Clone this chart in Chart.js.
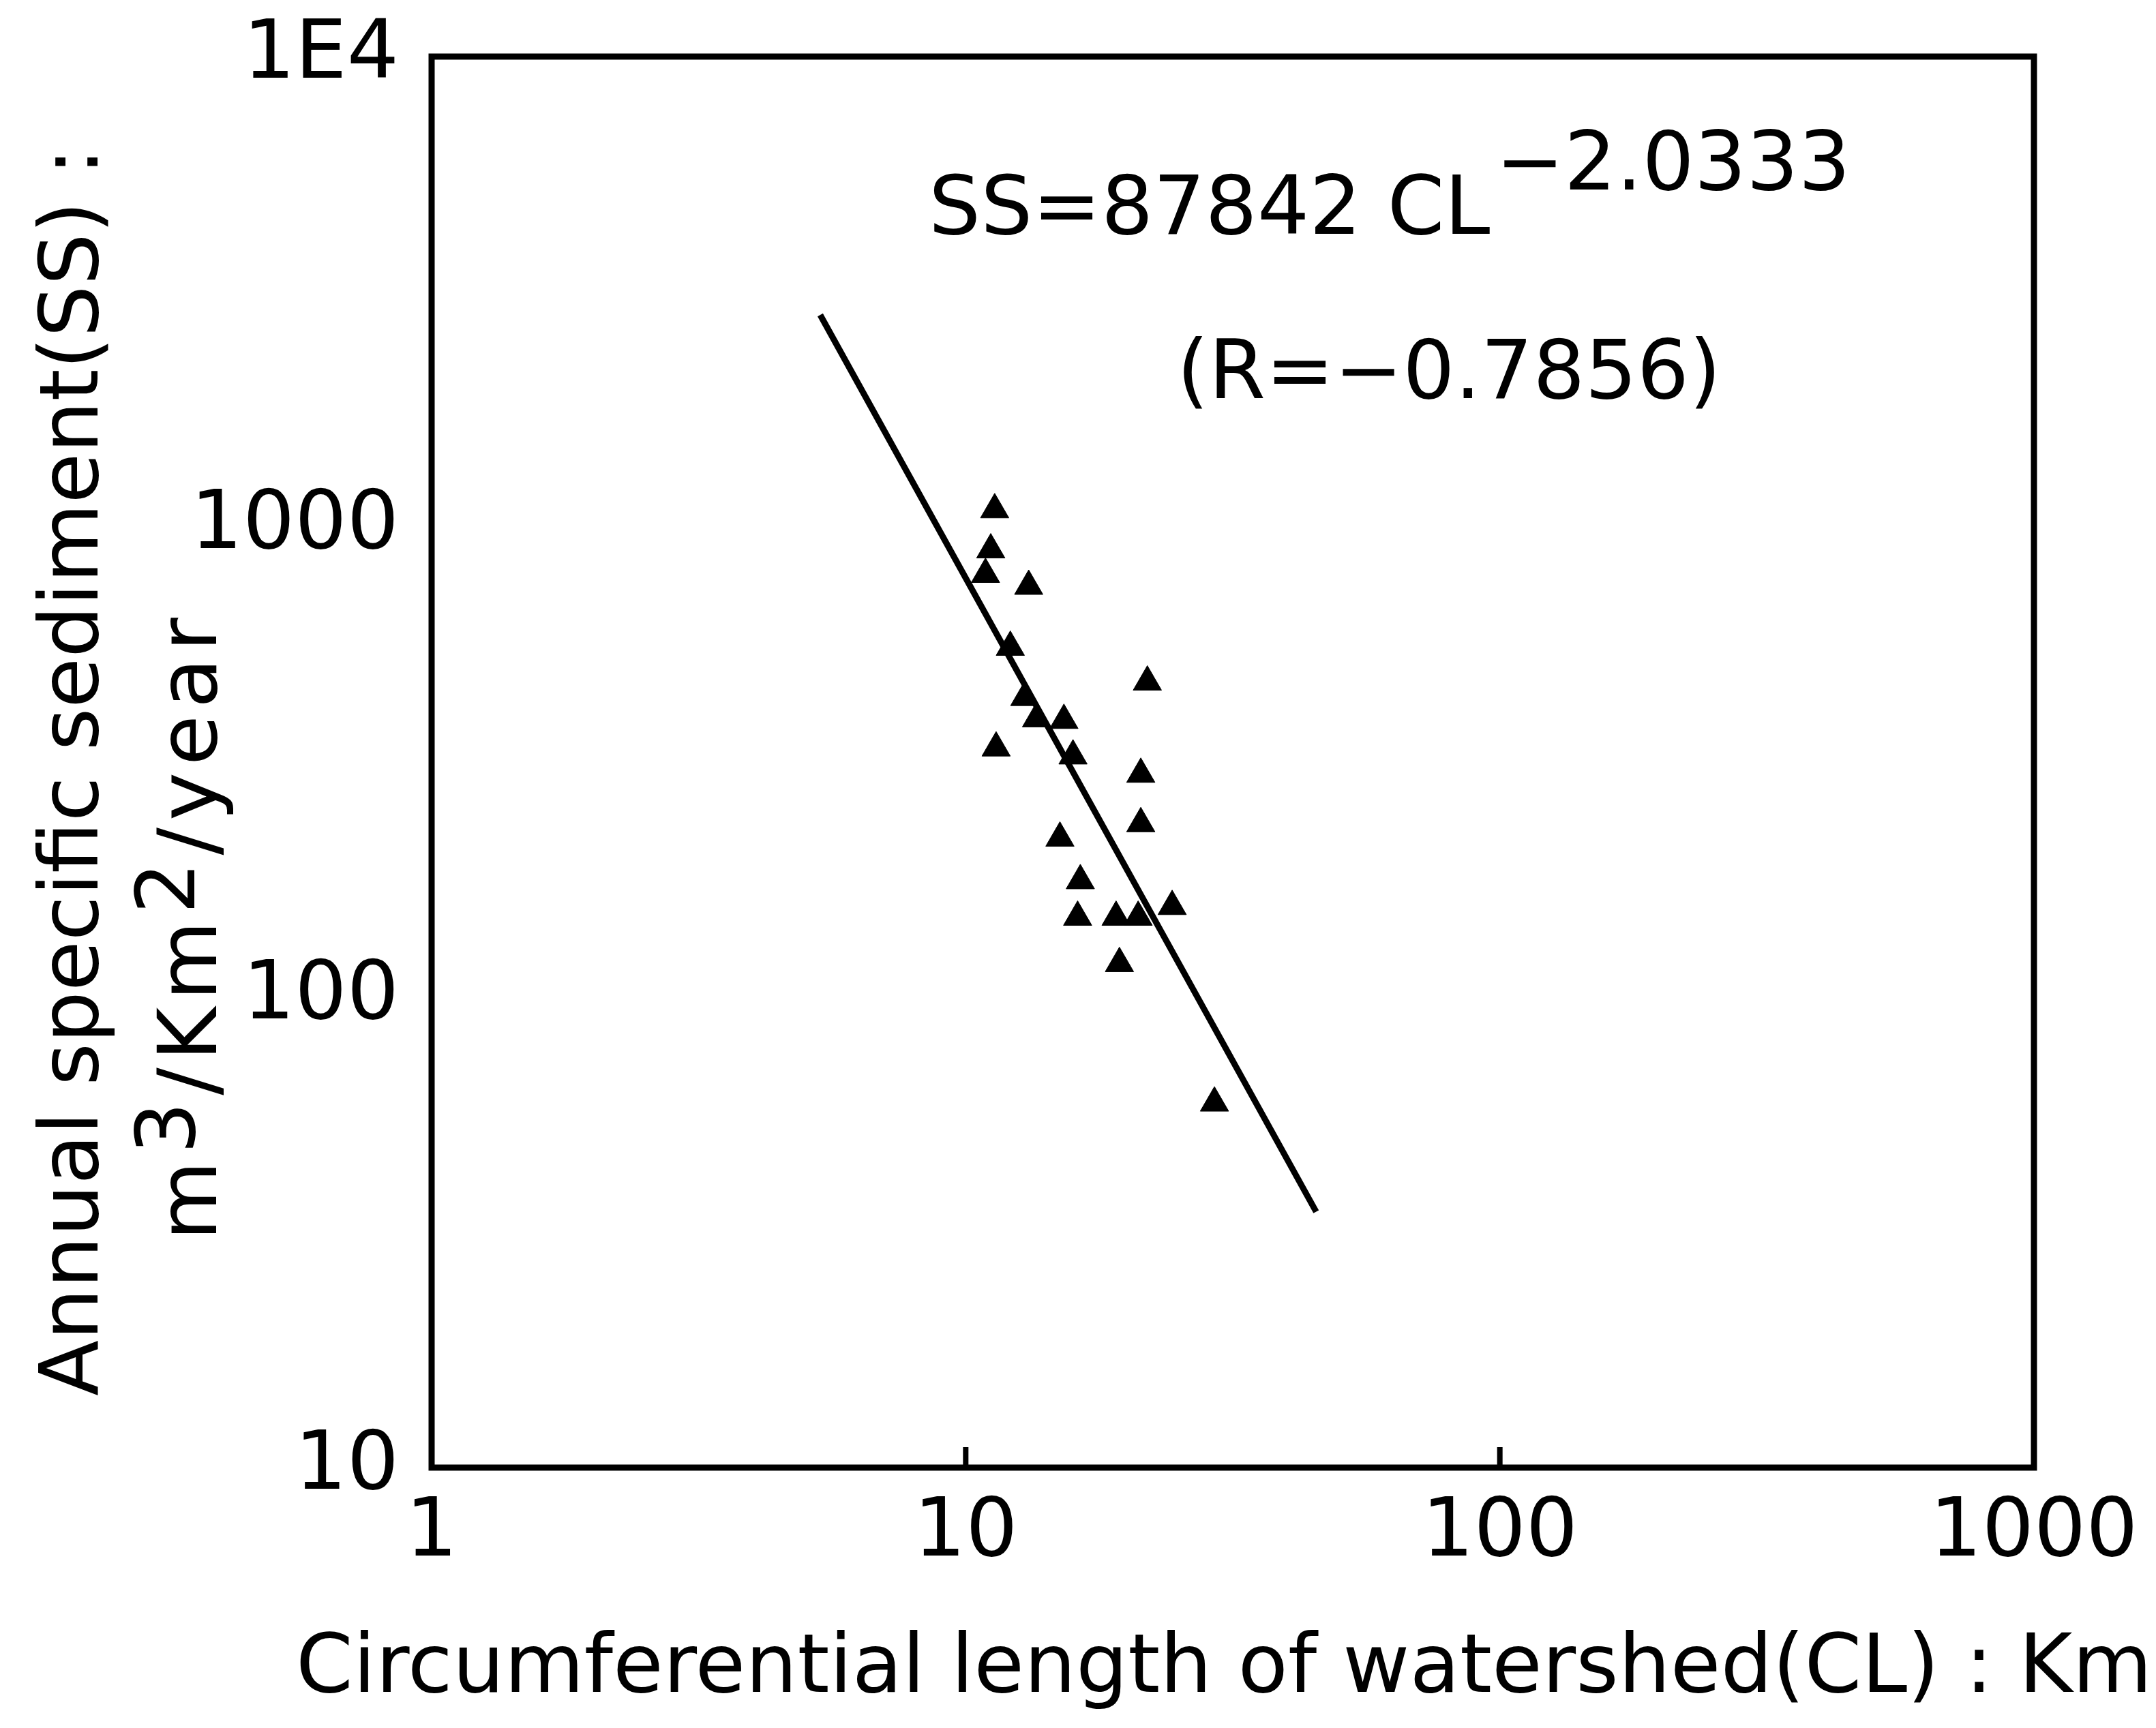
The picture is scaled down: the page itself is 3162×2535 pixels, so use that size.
<!DOCTYPE html>
<html>
<head>
<meta charset="utf-8">
<script src="https://cdn.jsdelivr.net/npm/chart.js@4.4.0/dist/chart.umd.min.js"></script>
<style>
html, body { margin: 0; padding: 0; background: #fff; }
</style>
</head>
<body>
<canvas id="ss" width="3162" height="2535"></canvas>
<script>
// circumferential length (Km) and annual specific sediment (m3/Km2/year)
const clValues = [11.33, 11.14, 10.89, 13.12, 12.12, 21.88, 12.90, 13.57, 15.27, 11.40, 15.88,
                  21.27, 21.27, 15.01, 16.39, 16.20, 19.12, 21.03, 24.35, 19.40, 29.22];
const ssValues = [1088, 894, 793, 748, 555, 468, 434, 391, 388, 339, 326,
                  298, 234, 218, 177, 148, 148, 148, 156, 118, 59.6];

// end points of the fitted line
const fitCL = [5.34, 45.3];
const fitSS = [2823, 35.0];

const xTicks = [1, 10, 100, 1000];
const xTickLabels = ['1', '10', '100', '1000'];
const yTicks = [10, 100, 1000, 10000];
const yTickLabels = ['10', '100', '1000', '1E4'];

const fitText = 'SS=87842 CL';
const fitPower = '\u22122.0333';
const rText = '(R=\u22120.7856)';
const yTitle1 = 'Annual specific sediment(SS) :';
const yTitle2 = [['m', 0], ['3', 1], ['/', 0], ['Km', 0], ['2', 1], ['/', 0], ['year', 0]];
const xTitle = 'Circumferential length of watershed(CL) : Km';

const FONT = '"DejaVu Sans"';

// draws text runs char by char, some raised, with a bit of extra spacing
function drawRuns(ctx, runs, x, y, raise, extra) {
    let cx = x;
    runs.forEach(function(r) {
        for (const ch of r[0]) {
            ctx.fillText(ch, cx, y - r[1] * raise);
            cx += ctx.measureText(ch).width + extra;
        }
    });
}

const decorPlugin = {
    id: 'decor',
    afterDraw(chart) {
        const ctx = chart.ctx;
        const area = chart.chartArea;
        const xs = chart.scales.x;
        ctx.save();
        // frame
        ctx.strokeStyle = '#000';
        ctx.lineWidth = 9;
        ctx.strokeRect(area.left, area.top, area.right - area.left, area.bottom - area.top);
        // small inward ticks on the x axis
        ctx.lineWidth = 8;
        ctx.beginPath();
        xTicks.slice(1, -1).forEach(function(v) {
            const px = xs.getPixelForValue(v);
            ctx.moveTo(px, area.bottom);
            ctx.lineTo(px, area.bottom - 30);
        });
        ctx.stroke();

        ctx.fillStyle = '#000';
        ctx.font = '120px ' + FONT;
        ctx.textBaseline = 'alphabetic';
        ctx.textAlign = 'left';

        // equation and correlation
        ctx.fillText(fitText, 1362, 343);
        const w = ctx.measureText(fitText).width;
        ctx.fillText(fitPower, 1362 + w + 8, 278);
        ctx.fillText(rText, 1726, 584);

        // x title
        ctx.fillText(xTitle, 434, 2482);

        // y title, two lines
        ctx.save();
        ctx.translate(143, 2048);
        ctx.rotate(-Math.PI / 2);
        ctx.fillText(yTitle1, 0, 0);
        ctx.restore();

        ctx.save();
        ctx.translate(317, 1820);
        ctx.rotate(-Math.PI / 2);
        drawRuns(ctx, yTitle2, 0, 0, 32, 10);
        ctx.restore();

        ctx.restore();
    }
};

const points = clValues.map(function(x, i) { return {x: x, y: ssValues[i]}; });
const fitLine = fitCL.map(function(x, i) { return {x: x, y: fitSS[i]}; });

new Chart(document.getElementById('ss'), {
    type: 'scatter',
    data: {
        datasets: [
            {
                label: 'observed',
                data: points,
                pointStyle: 'triangle',
                pointRadius: 24,
                backgroundColor: '#000',
                borderColor: '#000',
                borderWidth: 1
            },
            {
                label: 'fit',
                data: fitLine,
                showLine: true,
                pointRadius: 0,
                borderColor: '#000',
                borderWidth: 9
            }
        ]
    },
    options: {
        responsive: false,
        animation: false,
        devicePixelRatio: 1,
        layout: { padding: { left: 0, right: 179, top: 83, bottom: 0 } },
        plugins: { legend: { display: false }, tooltip: { enabled: false } },
        scales: {
            x: {
                type: 'logarithmic',
                min: 1,
                max: 1000,
                afterBuildTicks: function(s) { s.ticks = xTicks.map(function(v) { return {value: v}; }); },
                afterFit: function(s) {
                    s.height = 382;
                    s.paddingLeft = 0; s.paddingRight = 0;
                },
                grid: { display: false, drawTicks: false },
                border: { display: false },
                ticks: {
                    autoSkip: false,
                    maxRotation: 0,
                    padding: 26,
                    color: '#000',
                    font: { family: 'DejaVu Sans', size: 120 },
                    callback: function(v) { const i = xTicks.indexOf(v); return i < 0 ? '' : xTickLabels[i]; }
                }
            },
            y: {
                type: 'logarithmic',
                min: 10,
                max: 10000,
                afterBuildTicks: function(s) { s.ticks = yTicks.map(function(v) { return {value: v}; }); },
                afterFit: function(s) {
                    s.width = 633;
                    s.paddingTop = 0; s.paddingBottom = 0;
                },
                grid: { display: false, drawTicks: false },
                border: { display: false },
                ticks: {
                    autoSkip: false,
                    padding: 48,
                    color: '#000',
                    font: { family: 'DejaVu Sans', size: 120 },
                    callback: function(v) { const i = yTicks.indexOf(v); return i < 0 ? '' : yTickLabels[i]; }
                }
            }
        }
    },
    plugins: [decorPlugin]
});
</script>
</body>
</html>
